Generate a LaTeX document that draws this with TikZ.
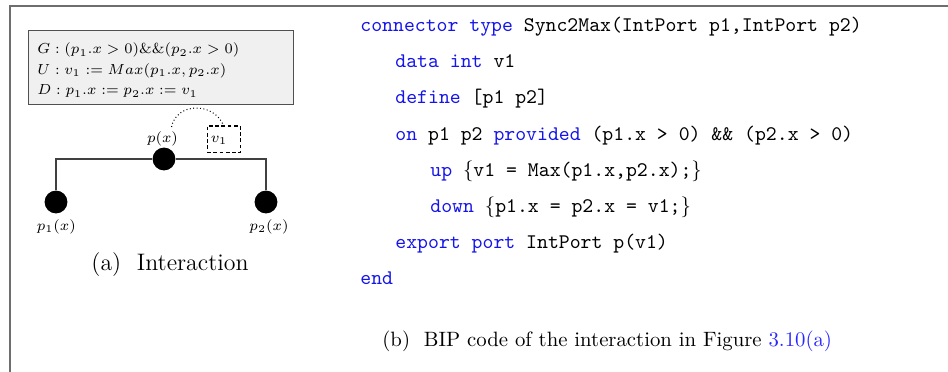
\documentclass[tikz,border=0pt]{standalone}
\usepackage{amsmath}
\definecolor{kw}{RGB}{20,20,235}
\definecolor{lnk}{RGB}{40,40,255}
\definecolor{framecol}{RGB}{110,110,110}
\definecolor{boxfill}{RGB}{240,240,240}
\definecolor{boxline}{RGB}{80,80,80}
\begin{document}
\begin{tikzpicture}[x=0.4817pt,y=-0.4817pt,
  code/.style={anchor=base west,inner sep=0pt,font=\ttfamily},
  small/.style={inner sep=0pt,font=\fontsize{7.3}{9.9}\selectfont},
  port/.style={circle,fill=black,minimum size=11pt,inner sep=0pt},
  wire/.style={draw=black!75,line width=0.5pt},
  captext/.style={anchor=base west,inner sep=0pt}]
\useasboundingbox (0,0) rectangle (948,372);
% frame
\draw[framecol,line width=1pt] (10,372) -- (10,6) -- (948,6);
% guard box
\node[draw=boxline,fill=boxfill,line width=0.6pt,anchor=north west,minimum width=127.6pt,minimum height=35.6pt,inner sep=0pt] (gbox) at (28,30) {};
\node[small,anchor=base west] (gl) at (37,54) {$G:(p_1.x>0)\&\&(p_2.x>0)$};
\node[small,anchor=base west] (ul) at (37,74.5) {$U:v_1:=Max(p_1.x,p_2.x)$};
\node[small,anchor=base west] (dl) at (37,95) {$D:p_1.x:=p_2.x:=v_1$};
% ports
\node[port] (p) at (164,159) {};
\node[port] (p1) at (56,202) {};
\node[port] (p2) at (266,202) {};
\draw[wire] (p1) |- (p);
\draw[wire] (p) -| (p2);
\node[small] (plab) at (162.5,139) {$p(x)$};
\node[small] (p1lab) at (56.3,226.5) {$p_1(x)$};
\node[small] (p2lab) at (269,226.5) {$p_2(x)$};
\node[draw,dash pattern=on 1.8pt off 1.2pt,line width=0.5pt,minimum width=15.9pt,minimum height=12.9pt,inner sep=0pt] (vbox) at (223.6,139.4) {};
\node[small] (vlab) at (219,140) {$v_1$};
\draw[dash pattern=on 0.45pt off 1.2pt,line width=0.5pt] (171.5,127) .. controls (176,103) and (213,101) .. (vbox.north);
\node[captext,font=\fontsize{11.5}{14}\selectfont] (capa) at (91,271) {(a)\ \ Interaction};
% code
\node[code] (c1) at (360,31.5) {\textcolor{kw}{connector type} Sync2Max(IntPort p1,IntPort p2)};
\node[code] (c2) at (395,67.7) {\textcolor{kw}{data int} v1};
\node[code] (c3) at (395,103.9) {\textcolor{kw}{define} [p1 p2]};
\node[code] (c4) at (395,140.1) {\textcolor{kw}{on} p1 p2 \textcolor{kw}{provided} (p1.x > 0) \&\& (p2.x > 0)};
\node[code] (c5) at (430,176.3) {\textcolor{kw}{up} {\rmfamily\{}v1 = Max(p1.x,p2.x);{\rmfamily\}}};
\node[code] (c6) at (430,212.5) {\textcolor{kw}{down} {\rmfamily\{}p1.x = p2.x = v1;{\rmfamily\}}};
\node[code] (c7) at (395,248.7) {\textcolor{kw}{export port} IntPort p(v1)};
\node[code] (c8) at (360,284.9) {\textcolor{kw}{end}};
\node[captext] (capb) at (382,347) {(b)\ \ BIP code of the interaction in Figure \textcolor{lnk}{3.10(a)}};
\end{tikzpicture}
\end{document}
